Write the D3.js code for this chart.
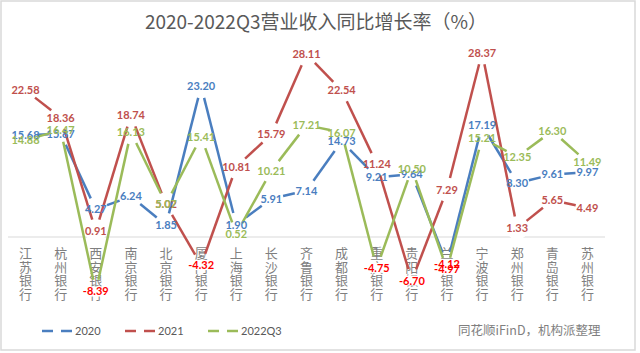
<!DOCTYPE html>
<html>
<head>
<meta charset="utf-8">
<script src="https://cdn.jsdelivr.net/npm/d3@7"></script>
<style>
  html, body { margin: 0; padding: 0; background: #fff; }
  svg { display: block; }
</style>
</head>
<body>
<svg id="chart" width="640" height="353"></svg>
<script>
const categories = ["江苏银行","杭州银行","西安银行","南京银行","北京银行","厦门银行","上海银行","长沙银行","齐鲁银行","成都银行","重庆银行","贵阳银行","兰州银行","宁波银行","郑州银行","青岛银行","苏州银行"];
const values2020 = [15.68, 15.87, 4.27, 6.24, 1.85, 23.20, 1.90, 5.91, 7.14, 14.73, 9.21, 9.64, -4.12, 17.19, 8.30, 9.61, 9.97];
const values2021 = [22.58, 18.36, 0.91, 18.74, 5.02, -4.32, 10.81, 15.79, 28.11, 22.54, 11.24, -6.70, 7.29, 28.37, 1.33, 5.65, 4.49];
const values2022Q3 = [14.88, 16.47, -8.39, 16.13, 5.07, 15.41, 0.52, 10.21, 17.21, 16.07, -4.75, 10.50, -4.97, 15.21, 12.35, 16.30, 11.49];
const seriesNames = ["2020", "2021", "2022Q3"];
const seriesColors = ["#4A7EBF", "#C0504D", "#9BBB59"];
const titleText = "2020-2022Q3营业收入同比增长率（%）";
const sourceText = "同花顺iFinD，机构派整理";

const series = [values2020, values2021, values2022Q3].map((v, i) => ({
  name: seriesNames[i], color: seriesColors[i], values: v
}));

const svg = d3.select("#chart");

// frame
svg.append("rect").attr("x", 1).attr("y", 1).attr("width", 634).attr("height", 349)
  .attr("fill", "#fff").attr("stroke", "#d9d9d9").attr("stroke-width", 1.5);

// title
svg.append("text").attr("x", 316).attr("y", 29).attr("text-anchor", "middle")
  .attr("font-family", "'Noto Sans CJK SC', sans-serif").attr("font-size", 19)
  .attr("fill", "#595959").text(titleText);

const x = d3.scaleBand().domain(categories).range([8, 605]);
const y = d3.scaleLinear().domain([-10, 30]).range([302, 42]);
const cx = c => x(c) + x.bandwidth() / 2;

// zero axis
svg.append("line").attr("x1", 8).attr("x2", 605).attr("y1", y(0)).attr("y2", y(0))
  .attr("stroke", "#d9d9d9").attr("stroke-width", 1);

// white marker circles (gaps in axis line)
const R = 12;
series.forEach(s => {
  svg.append("g").selectAll("circle").data(s.values).join("circle")
    .attr("cx", (d, i) => cx(categories[i])).attr("cy", d => y(d))
    .attr("r", R - 1).attr("fill", "#fff");
});

// category labels (vertical)
const catG = svg.append("g").attr("font-family", "'Noto Sans CJK SC', sans-serif")
  .attr("font-size", 13).attr("fill", "#7f7f7f").attr("text-anchor", "middle");
categories.forEach(c => {
  Array.from(c).forEach((ch, j) => {
    catG.append("text").attr("x", cx(c)).attr("y", 258 + j * 13.6).text(ch);
  });
});

// lines with gaps around points
const lineGen = d3.line().x(d => d[0]).y(d => d[1]);
series.forEach(s => {
  const pts = s.values.map((v, i) => [cx(categories[i]), y(v)]);
  const g = svg.append("g");
  for (let i = 0; i < pts.length - 1; i++) {
    const [x0, y0] = pts[i], [x1, y1] = pts[i + 1];
    const dx = x1 - x0, dy = y1 - y0, len = Math.hypot(dx, dy);
    if (len <= 2 * R) continue;
    const ux = dx / len, uy = dy / len;
    g.append("path")
      .attr("d", lineGen([[x0 + ux * R, y0 + uy * R], [x1 - ux * R, y1 - uy * R]]))
      .attr("fill", "none").attr("stroke", s.color).attr("stroke-width", 2.5);
  }
});

// white boxes behind negative labels (they sit on the category text)
series.forEach(s => {
  svg.append("g").selectAll("rect").data(s.values.map((v, i) => [v, i]).filter(d => d[0] < 0)).join("rect")
    .attr("x", d => cx(categories[d[1]]) - 15).attr("y", d => y(d[0]) - 5)
    .attr("width", 30).attr("height", 10).attr("fill", "#fff");
});

// data labels
series.forEach(s => {
  svg.append("g").selectAll("text").data(s.values).join("text")
    .attr("x", (d, i) => cx(categories[i])).attr("y", d => y(d))
    .attr("dy", "0.36em").attr("text-anchor", "middle")
    .attr("font-family", "Lato, sans-serif").attr("font-weight", "bold").attr("font-size", 11)
    .attr("fill", d => d < 0 ? "#FF0000" : s.color)
    .text(d => d.toFixed(2));
});

// legend
const legendX = [42, 125, 208];
series.forEach((s, i) => {
  const lx = legendX[i];
  svg.append("line").attr("x1", lx).attr("x2", lx + 11).attr("y1", 331).attr("y2", 331)
    .attr("stroke", s.color).attr("stroke-width", 2.5);
  svg.append("line").attr("x1", lx + 19).attr("x2", lx + 30).attr("y1", 331).attr("y2", 331)
    .attr("stroke", s.color).attr("stroke-width", 2.5);
  svg.append("text").attr("x", lx + 33).attr("y", 335)
    .attr("font-family", "Lato, sans-serif").attr("font-size", 11).attr("fill", "#595959")
    .text(s.name);
});

// source
svg.append("text").attr("x", 458).attr("y", 335)
  .attr("font-family", "'Noto Sans CJK SC', sans-serif").attr("font-size", 12.5)
  .attr("fill", "#7f7f7f").text(sourceText);
</script>
</body>
</html>
